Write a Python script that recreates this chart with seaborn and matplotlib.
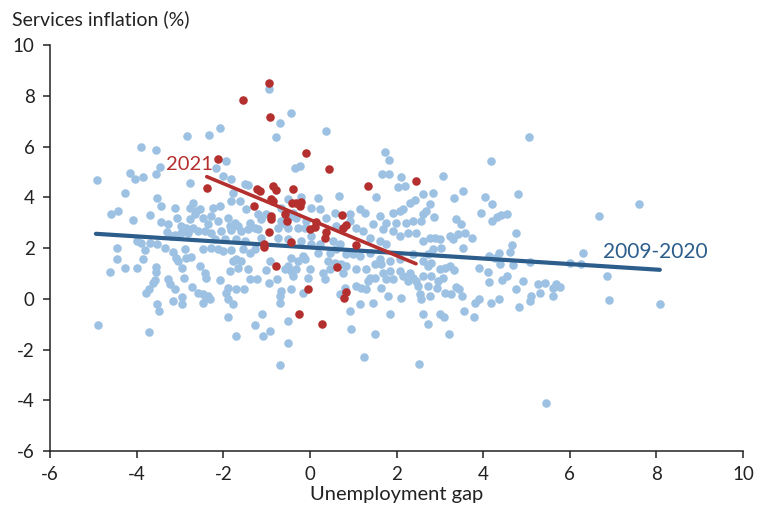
import matplotlib
matplotlib.use("Agg")
import matplotlib.pyplot as plt
import seaborn as sns
import pandas as pd

# 2009-2020 observations: unemployment gap (x) and services inflation (y)
blue_gap = [
    -4.92, -4.16, -4.04, -3.86, -3.46, -3.56, -4.27, -4.60, -4.43, -4.09,
    -3.70, -3.53, -3.44, -3.12, -3.44, -3.28, -3.30, -3.07, -3.21, -3.12,
    -2.98, -4.00, -3.90, -3.70, -3.53, -3.35, -3.81, -4.46, -4.46, -4.27,
    -4.62, -4.00, -3.86, -3.56, -3.56, -3.16, -3.09, -3.05, -2.96, -3.58,
    -3.63, -3.72, -3.79, -3.28, -3.23, -3.12, -3.53, -3.49, -4.90, -3.72,
    -3.16, -2.96, -2.96, -3.90, -3.56, -2.84, -2.77, -2.91, -2.73, -2.86,
    -2.75, -2.77, -2.70, -2.63, -2.86, -2.82, -2.70, -2.59,
    -0.95, -0.44, -0.69, -0.79, -2.08, -2.33, -1.94, -2.17, -2.01, -1.82,
    -1.50, -1.43, -0.35, -0.23, -1.78, -1.62, -1.82, -1.48, -1.20, -1.13,
    -2.24, -2.08, -2.54, -2.66, -2.77, -2.47, -2.29, -2.12, -2.36, -1.89,
    -1.73, -1.85, -1.66, -1.39, -1.27, -0.67, -0.51, -0.39, -0.32, -0.09,
    -0.58, -0.74, -1.02, -2.98, -2.42, -2.29, -2.06, -1.82, -1.59, -1.43,
    -1.20, -0.67, -0.44, -0.51, -0.28, -0.12, -1.13, -0.74, -0.51, -0.21,
    -1.71, -1.50, -1.96, -2.19,
    -2.89, -2.47, -2.29, -2.12, -2.01, -1.82, -1.55, -1.39, -1.27, -2.54,
    -2.42, -2.40, -2.08, -1.85, -1.78, -1.71, -1.59, -1.43, -1.66, -1.39,
    -1.22, -1.02, -0.92, -0.95, -0.76, -0.58, -0.51, -0.44, -0.39, -0.32,
    -0.44, -0.28, -0.12, -1.89, -1.71, -1.52, -2.47, -2.40, -2.31, -2.47,
    -1.94, -1.89, -1.78, -0.67, -0.69, -0.69, -0.44, -0.16, -1.89, -1.11,
    -1.27, -0.92, -1.09, -1.71, -0.51, -0.51, -0.69, -2.59, -2.36,
    0.37, 1.73, 1.82, 1.66, 1.82, 2.10, 2.03, 2.19, 1.52, 2.42,
    2.61, 0.67, 0.18, -0.21, 0.02, 0.23, 0.37, 0.58, 0.92, 1.15,
    1.27, 1.62, 1.45, 1.76, 1.92, 2.08, 2.15, 2.31, 2.61, 2.68,
    2.77, 1.99, 2.22, 2.38, 2.56, 0.60, 0.92, 1.06, 1.22, 1.69,
    1.92, 2.08, 2.26, 2.45, 2.61, 2.77, 1.39, 1.62, 1.76, 0.02,
    0.53, 0.69, 0.23, 0.02,
    -0.16, 0.18, 0.46, 0.60, 0.83, 0.99, 1.15, 1.39, 1.62, 1.85,
    2.08, 2.38, 2.61, 2.73, 0.00, -0.05, 0.30, 0.35, 0.46, 0.58,
    0.72, 0.83, 0.76, 1.06, 1.29, 1.39, 1.34, 1.50, 1.69, 1.64,
    1.85, 1.92, 2.08, 2.15, 2.31, 2.38, 2.26, 2.49, 2.54, 2.73,
    2.77, 2.56, 0.69, 0.81, 1.06, 1.18, 1.29, 1.15, 1.45, 1.80,
    2.10, 0.92, 1.85, 2.61, 2.73, 0.95, 1.50, 1.25, 2.52, 1.64,
    1.76, 2.45, 2.61, 2.79, 1.50, 0.42,
    4.18, 3.07, 2.84, 3.53, 3.33, 4.04, 4.20, 4.80, 3.95, 4.20,
    4.32, 4.41, 4.55, 2.86, 3.37, 3.49, 2.89, 3.00, 3.23, 3.30,
    3.42, 3.58, 3.74, 3.53, 2.84, 3.03, 4.76, 4.67, 4.62, 4.36,
    4.13, 4.27, 2.73, 2.79, 3.90, 4.11, 4.39, 4.69, 5.08, 6.00,
    6.26, 6.30, 3.00, 3.12, 3.23, 3.33, 3.07, 2.96, 3.37, 3.44,
    2.93, 3.12, 3.26, 3.51, 4.13, 4.43, 4.55, 4.92, 4.76, 5.27,
    5.43, 5.68, 5.77, 5.61, 5.61, 5.31, 5.10, 5.08, 4.83, 4.36,
    4.18, 3.90, 3.81, 3.56, 3.79, 3.00, 3.09, 3.21, 5.06, 6.67,
    7.60, 6.86, 6.91, 8.08, 5.45,
]
blue_infl = [
    4.69, 4.97, 4.73, 4.81, 5.20, 4.93, 4.18, 3.35, 3.47, 3.11,
    3.31, 3.98, 3.67, 3.59, 3.03, 2.96, 2.64, 3.19, 2.48, 2.52,
    2.60, 2.29, 2.21, 2.21, 2.17, 2.01, 1.93, 2.01, 1.58, 1.22,
    1.06, 1.22, 1.58, 1.26, 1.06, 1.85, 1.62, 1.50, 1.22, 0.75,
    0.63, 0.39, 0.24, 0.79, 0.59, 0.39, -0.20, -0.47, -1.02, -1.30,
    -0.08, 0.08, -0.20, 5.99, 5.87, 6.42, 4.57, 0.83, 0.47, 1.62,
    1.66, 3.59, 3.78, 3.47, 2.80, 2.60, 2.80, 2.68,
    8.28, 7.33, 6.94, 6.38, 6.74, 6.46, 5.44, 5.16, 4.85, 4.73,
    4.53, 4.49, 5.16, 5.24, 4.18, 3.86, 3.86, 3.55, 3.35, 3.15,
    3.59, 3.67, 3.55, 3.35, 3.15, 3.19, 3.27, 3.07, 2.96, 3.19,
    3.00, 2.88, 2.88, 3.00, 2.80, 3.59, 3.94, 3.39, 3.19, 3.07,
    2.96, 2.80, 3.35, 2.88, 2.68, 2.60, 2.68, 2.72, 2.68, 2.76,
    2.76, 3.07, 3.27, 2.80, 2.80, 2.80, 2.40, 2.40, 2.36, 2.29,
    2.36, 2.29, 2.36, 2.36,
    1.97, 1.97, 2.01, 1.97, 1.89, 1.93, 1.97, 1.81, 1.97, 1.30,
    1.02, 0.83, 0.75, 1.10, 1.50, 1.58, 1.50, 1.18, 1.22, 0.79,
    0.79, 1.14, 1.50, 0.63, 0.79, 1.18, 1.30, 1.10, 0.91, 1.18,
    1.62, 1.50, 1.58, 0.43, 0.39, 0.39, 0.20, 0.04, 0.00, -0.16,
    0.24, 0.00, -0.20, 0.32, 0.12, -0.16, 0.39, 0.24, -0.71, -0.59,
    -1.02, -1.26, -1.46, -1.46, -0.87, -1.73, -2.60, 0.24, 0.12,
    6.62, 5.79, 5.48, 4.93, 4.93, 4.81, 4.41, 4.45, 4.02, 3.90,
    4.14, 4.06, 3.98, 4.02, 3.59, 3.55, 3.19, 3.39, 3.35, 3.55,
    3.39, 3.27, 2.96, 3.00, 3.39, 3.47, 3.55, 3.78, 3.35, 3.47,
    3.74, 3.00, 3.00, 3.07, 3.07, 2.88, 3.07, 2.80, 2.68, 2.76,
    2.68, 2.48, 2.60, 2.60, 2.29, 2.40, 2.40, 2.29, 2.17, 2.48,
    2.29, 2.17, 2.17, 2.17,
    1.69, 1.81, 1.81, 1.97, 1.77, 1.77, 1.69, 1.81, 1.58, 1.50,
    1.58, 1.77, 1.50, 1.30, 1.18, 0.83, 1.02, 0.79, 1.18, 1.42,
    1.38, 1.30, 1.02, 1.18, 1.18, 0.83, 0.71, 0.83, 1.02, 1.38,
    1.10, 0.79, 1.10, 0.91, 1.02, 0.83, 0.71, 0.51, 0.20, 0.51,
    0.12, 0.00, 0.20, 0.43, 0.51, 0.43, 0.39, -0.20, -0.16, 0.12,
    0.04, -0.47, -0.59, -0.59, -0.99, -1.18, -1.38, -2.29, -2.56, 0.43,
    0.79, 0.71, 0.91, 0.91, 1.38, 1.50,
    5.44, 4.85, 4.18, 4.26, 3.98, 4.02, 3.74, 4.14, 3.39, 3.07,
    3.23, 3.31, 3.35, 3.23, 3.15, 2.96, 2.40, 2.36, 2.48, 2.36,
    2.56, 2.60, 2.40, 2.01, 1.97, 2.01, 2.60, 2.13, 1.85, 1.81,
    1.69, 1.62, 1.77, 1.42, 1.22, 1.06, 1.38, 1.34, 1.46, 1.42,
    1.38, 1.81, 1.18, 1.22, 1.30, 1.14, 0.83, 0.71, 0.47, 0.39,
    0.43, 0.24, 0.20, 0.12, 0.67, 0.75, 0.91, 0.71, 0.39, 0.59,
    0.63, 0.59, 0.47, 0.43, 0.12, 0.24, 0.12, -0.08, -0.32, 0.00,
    -0.16, 0.00, -0.16, -0.47, -0.71, -0.59, -0.71, -1.38, 6.38, 3.27,
    3.74, 0.91, -0.04, -0.20, -4.10,
]

# 2021 observations
red_gap = [
    -0.95, -1.55, -0.92, -0.09, 0.44, -2.12, -2.38, 1.34, 2.45, -1.22,
    -1.15, -0.85, -0.79, -0.39, -1.29, -0.90, -0.85, -0.42, -0.32, -0.23,
    -0.21, -0.90, -0.90, -0.58, -0.53, 0.74, 0.76, 0.83, 0.00, 0.12,
    0.14, 0.37, 0.35, -0.95, -1.06, -1.06, -0.44, -0.79, 0.62, 1.06,
    -0.05, 0.83, 0.79, -0.25, 0.28,
]
red_infl = [
    8.51, 7.84, 7.17, 5.75, 5.12, 5.52, 4.37, 4.45, 4.65, 4.33,
    4.26, 4.45, 4.30, 4.33, 3.66, 3.94, 3.86, 3.78, 3.78, 3.66,
    3.82, 3.27, 3.15, 3.35, 3.07, 3.31, 2.80, 2.92, 2.76, 2.84,
    3.03, 2.64, 2.40, 2.64, 2.17, 2.05, 2.25, 1.30, 1.26, 2.13,
    0.39, 0.28, 0.04, -0.59, -0.99,
]

# fitted regression lines (end points)
blue_fit_gap = [-4.94, 8.08]
blue_fit_infl = [2.56, 1.14]
red_fit_gap = [-2.38, 2.45]
red_fit_infl = [4.81, 1.38]

x_ticks = [-6, -4, -2, 0, 2, 4, 6, 8, 10]
y_ticks = [-6, -4, -2, 0, 2, 4, 6, 8, 10]

LIGHT_BLUE = "#9dc1e2"
DARK_BLUE = "#2c5d8b"
RED = "#b3302e"

sns.set_style("ticks")
plt.rcParams["font.family"] = ["Lato", "DejaVu Sans"]

fig = plt.figure(figsize=(7.65, 5.11), dpi=100)
ax = fig.add_axes([50 / 765, 1 - 451 / 511, 693 / 765, 406 / 511])

blue_df = pd.DataFrame({"gap": blue_gap, "infl": blue_infl})
red_df = pd.DataFrame({"gap": red_gap, "infl": red_infl})
blue_fit = pd.DataFrame({"gap": blue_fit_gap, "infl": blue_fit_infl})
red_fit = pd.DataFrame({"gap": red_fit_gap, "infl": red_fit_infl})

sns.scatterplot(data=blue_df, x="gap", y="infl", ax=ax, color=LIGHT_BLUE,
                s=38, linewidth=0, zorder=2)
sns.lineplot(data=blue_fit, x="gap", y="infl", ax=ax, color=DARK_BLUE,
             linewidth=3.0, zorder=3, solid_capstyle="round")
sns.scatterplot(data=red_df, x="gap", y="infl", ax=ax, color=RED,
                s=38, linewidth=0, zorder=4)
sns.lineplot(data=red_fit, x="gap", y="infl", ax=ax, color=RED,
             linewidth=2.6, zorder=5, solid_capstyle="round")

ax.text(-2.77, 5.28, "2021", color=RED, fontsize=14.5, ha="center", va="center")
ax.text(7.97, 1.85, "2009-2020", color=DARK_BLUE, fontsize=15,
        ha="center", va="center")

ax.set_xlim(-6, 10)
ax.set_ylim(-6, 10)
ax.set_xticks(x_ticks)
ax.set_yticks(y_ticks)
ax.set_xticklabels([str(t) for t in x_ticks])
ax.set_yticklabels([str(t) for t in y_ticks])
ax.tick_params(axis="both", direction="out", length=5, width=1.1,
               colors="#222222", labelsize=13.5, labelcolor="#222222")
ax.tick_params(axis="x", pad=6)
ax.tick_params(axis="y", pad=6)
for side in ["top", "right"]:
    ax.spines[side].set_visible(False)
for side in ["left", "bottom"]:
    ax.spines[side].set_color("#222222")
    ax.spines[side].set_linewidth(1.1)

ax.set_xlabel("Unemployment gap", fontsize=14.5, color="#222222", labelpad=2)
ax.set_ylabel("")
fig.text(12 / 765, 1 - 19 / 511, "Services inflation (%)", fontsize=14,
         color="#222222", ha="left", va="center")

fig.savefig("out.png", dpi=100)
